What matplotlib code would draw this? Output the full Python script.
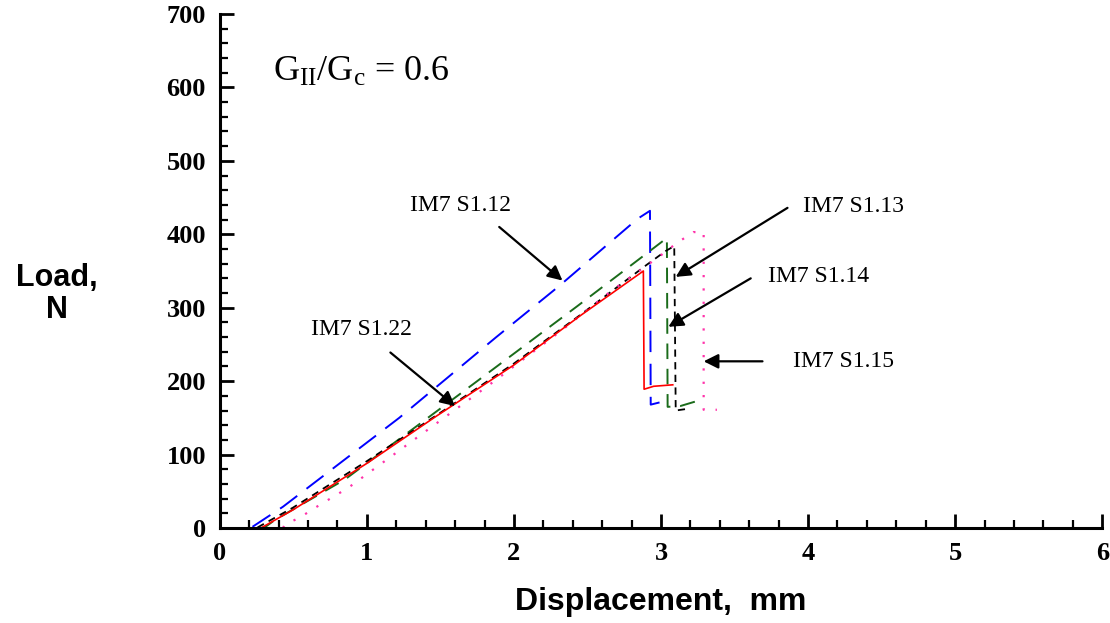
import numpy as np
import matplotlib
matplotlib.use("Agg")
import matplotlib.pyplot as plt
from matplotlib.ticker import MultipleLocator

# Datos (desplazamiento en mm, carga en N)
x_s112 = [0.0, 0.21, 0.43, 1.22, 1.88, 2.31, 2.84, 2.925, 2.93, 2.99]
y_s112 = [0, 0, 29, 150, 260, 330, 421, 432, 168, 171]

x_s113 = [0.0, 0.25, 0.5, 1.0, 1.5, 2.0, 2.45, 2.9, 3.03, 3.09, 3.10, 3.17]
y_s113 = [0, 0, 28, 91, 157, 224, 290, 358, 377, 384, 160, 162]

x_s114 = [0.1, 0.3, 0.375, 0.85, 1.67, 2.43, 2.87, 3.04, 3.045, 3.13, 3.23]
y_s114 = [0, 0, 11, 66, 188, 302, 369, 395, 165, 166, 172]

x_s115 = [0.43, 0.44, 0.55, 0.66, 0.875, 1.88, 2.33, 2.65, 2.99, 3.10, 3.22, 3.29, 3.29, 3.38]
y_s115 = [0, 4, 15, 29, 55, 202, 270, 321, 370, 387, 403, 403, 161, 161]

x_s122 = [0.0, 0.28, 0.5, 1.0, 1.47, 2.0, 2.45, 2.88, 2.885, 2.95, 3.08]
y_s122 = [0, 0, 25, 88, 152, 222, 289, 350, 189, 193, 195]

x_ticks = [0, 1, 2, 3, 4, 5, 6]
y_ticks = [0, 100, 200, 300, 400, 500, 600, 700]

# (texto, posición del texto, inicio de flecha, punta de flecha)
etiquetas = [
    ("IM7 S1.12", (1.64, 439), (1.90, 410), (2.33, 337)),
    ("IM7 S1.22", (0.96, 271), (1.16, 239), (1.60, 166)),
    ("IM7 S1.13", (4.31, 438), (3.86, 436), (3.10, 342)),
    ("IM7 S1.14", (4.07, 342), (3.61, 340), (3.05, 274)),
    ("IM7 S1.15", (4.24, 227), (3.69, 227), (3.29, 227)),
]

plt.rcParams['mathtext.fontset'] = 'custom'
plt.rcParams['mathtext.rm'] = 'Liberation Serif'
plt.rcParams['mathtext.it'] = 'Liberation Serif:italic'

fig = plt.figure(figsize=(11.1, 6.23), dpi=100)
ax = fig.add_axes([0.198, 0.1525, 0.795, 0.825])

ax.plot(x_s112, y_s112, color='blue', lw=1.4, linestyle=(0, (11, 6)))
ax.plot(x_s114, y_s114, color='#1a6b1a', lw=1.4, linestyle=(0, (8, 5)))
ax.plot(x_s113, y_s113, color='black', lw=1.3, linestyle=(0, (4, 3)))
ax.plot(x_s115, y_s115, color='#ff33aa', lw=1.6, linestyle=(0, (1, 5)))
ax.plot(x_s122, y_s122, color='red', lw=1.2)

ax.set_xlim(0, 6)
ax.set_ylim(0, 700)
ax.xaxis.set_minor_locator(MultipleLocator(0.2))
ax.yaxis.set_minor_locator(MultipleLocator(20))

for lado in ['top', 'right']:
    ax.spines[lado].set_visible(False)
for lado in ['left', 'bottom']:
    ax.spines[lado].set_linewidth(2.2)

ax.tick_params(which='major', direction='in', length=10, width=2, pad=10, labelsize=19)
ax.tick_params(which='minor', direction='in', length=6, width=1.6)

fuente_ticks = dict(family='Liberation Serif', weight='bold', size=19)
ax.set_xticks(x_ticks)
ax.set_xticklabels([str(v) for v in x_ticks], fontdict=fuente_ticks)
ax.set_yticks(y_ticks)
ax.set_yticklabels([str(v) for v in y_ticks], fontdict=fuente_ticks)

ax.set_xlabel("Displacement,  mm", family='Liberation Sans', fontweight='bold', fontsize=23)
ax.xaxis.set_label_coords(0.5, -0.115)
ax.set_ylabel("Load,\nN", family='Liberation Sans', fontweight='bold', fontsize=22,
              rotation=0, ha='center', va='center', linespacing=1.1)
ax.yaxis.set_label_coords(-0.185, 0.455)

ax.text(0.36, 620, r"G$_{\mathrm{II}}$/G$_{\mathrm{c}}$ = 0.6", family='Liberation Serif',
        fontsize=26, ha='left', va='center')

for texto, pos, inicio, punta in etiquetas:
    ax.text(pos[0], pos[1], texto, family='Liberation Serif', fontsize=17,
            ha='center', va='center')
    ax.annotate("", xy=punta, xytext=inicio,
                arrowprops=dict(arrowstyle='-|>', color='black', lw=1.6,
                                mutation_scale=22, shrinkA=0, shrinkB=0))

fig.savefig("out.png", dpi=100)
